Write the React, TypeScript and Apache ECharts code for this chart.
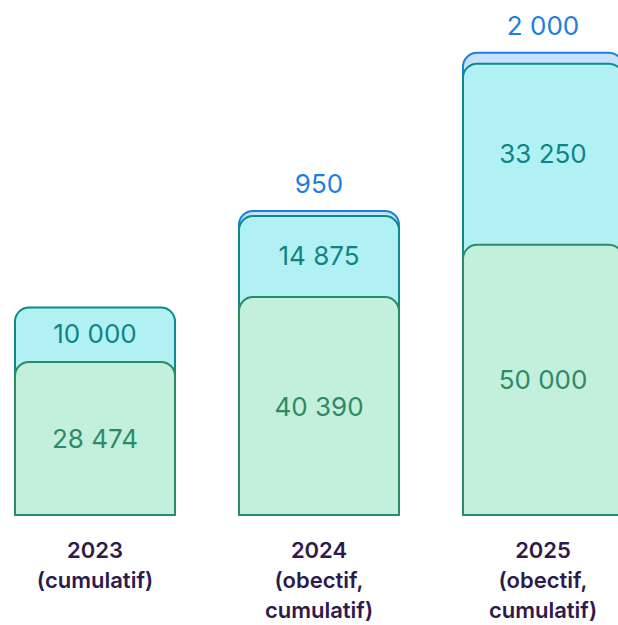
import React, { useEffect, useRef } from "react";
import * as echarts from "echarts";

const categories = ["2023\n(cumulatif)", "2024\n(obectif,\ncumulatif)", "2025\n(obectif,\ncumulatif)"];
const realise = [28474, 40390, 50000];
const engage = [10000, 14875, 33250];
const supplement: (number | null)[] = [null, 950, 2000];

const fmt = (v: number) => String(v).replace(/\B(?=(\d{3})+(?!\d))/g, " ");

export default function App() {
  const ref = useRef<HTMLDivElement>(null);
  useEffect(() => {
    if (!ref.current) return;
    const chart = echarts.init(ref.current, undefined, { renderer: "svg" });
    const cumEngage = realise.map((v, i) => v + engage[i]);
    const cumAll = cumEngage.map((v, i) => (supplement[i] == null ? null : v + (supplement[i] as number)));
    const font = "Inter, 'Noto Sans', sans-serif";
    const radius = [14, 14, 0, 0];
    chart.setOption({
      animation: false,
      grid: { left: -17, right: -37, top: 26, bottom: 109, outerBoundsMode: "none", containLabel: false },
      xAxis: {
        type: "category",
        data: categories,
        axisLine: { show: false },
        axisTick: { show: false },
        axisLabel: {
          margin: 19,
          fontFamily: font,
          fontWeight: 600,
          fontSize: 22,
          lineHeight: 30,
          color: "#2d1b4e",
          interval: 0,
        },
      },
      yAxis: { type: "value", min: 0, max: 90000, show: false, splitLine: { show: false } },
      series: [
        {
          type: "bar",
          data: cumAll,
          barWidth: 162,
          barGap: "-100%",
          z: 1,
          itemStyle: { color: "#c5e3ff", borderColor: "#1a7fe0", borderWidth: 2, borderRadius: radius },
          silent: true,
        },
        {
          type: "bar",
          data: cumEngage,
          barWidth: 162,
          barGap: "-100%",
          z: 2,
          itemStyle: { color: "#b2f1f3", borderColor: "#0f8a8a", borderWidth: 2, borderRadius: radius },
          silent: true,
        },
        {
          type: "bar",
          data: realise,
          barWidth: 162,
          barGap: "-100%",
          z: 3,
          itemStyle: { color: "#c2f0dd", borderColor: "#2e8a64", borderWidth: 2, borderRadius: radius },
          silent: true,
        },
        {
          type: "bar",
          stack: "labels",
          data: realise,
          barWidth: 162,
          barGap: "-100%",
          z: 4,
          itemStyle: { color: "transparent" },
          label: {
            show: true,
            position: "inside",
            fontFamily: font,
            fontSize: 26,
            color: "#2e8a64",
            formatter: (p: any) => fmt(p.value),
          },
        },
        {
          type: "bar",
          stack: "labels",
          data: engage,
          barWidth: 162,
          barGap: "-100%",
          z: 4,
          itemStyle: { color: "transparent" },
          label: {
            show: true,
            position: "inside",
            fontFamily: font,
            fontSize: 26,
            color: "#0e8585",
            formatter: (p: any) => fmt(p.value),
          },
        },
        {
          type: "bar",
          stack: "labels",
          data: supplement,
          barWidth: 162,
          barGap: "-100%",
          z: 4,
          itemStyle: { color: "transparent" },
          label: {
            show: true,
            position: "top",
            distance: 13,
            fontFamily: font,
            fontSize: 26,
            color: "#1a7fe0",
            formatter: (p: any) => (p.value == null ? "" : fmt(p.value)),
          },
        },
      ],
    });
    return () => chart.dispose();
  }, []);
  return (
    <div
      ref={ref}
      style={{ position: "fixed", left: 0, top: 0, width: 618, height: 625, background: "#fff" }}
    />
  );
}
